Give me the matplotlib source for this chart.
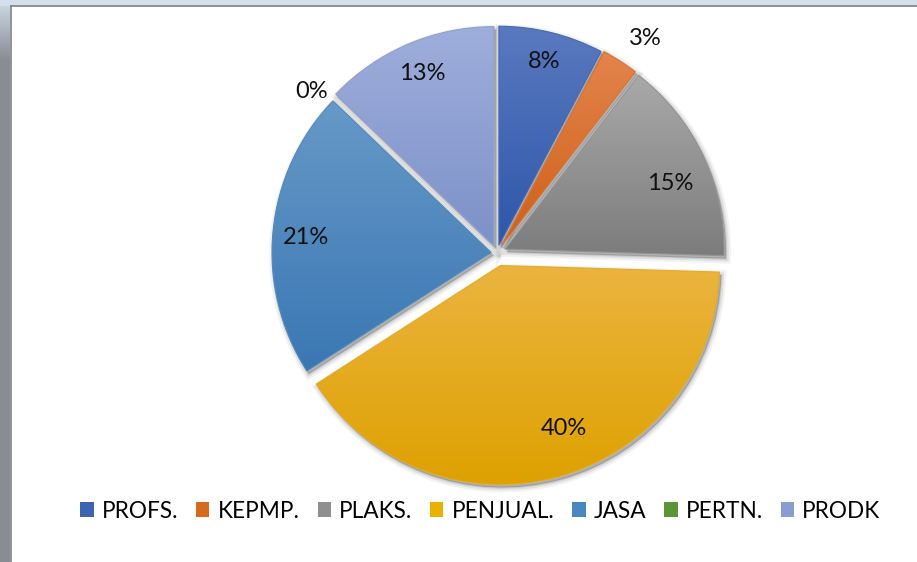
import numpy as np
import matplotlib
matplotlib.use("Agg")
import matplotlib.pyplot as plt
from matplotlib.patches import Rectangle, PathPatch
from matplotlib.colors import to_rgb
from matplotlib.transforms import Affine2D

# data (percent of total)
categories = ["PROFS.", "KEPMP.", "PLAKS.", "PENJUAL.", "JASA", "PERTN.", "PRODK"]
shares = [7.7, 2.7, 15.0, 40.3, 21.2, 0.0, 12.8]

# top / bottom colours of each slice gradient
top_colors = ["#5a79bf", "#e3844c", "#a9a9a9", "#ebb43f", "#6799c8", "#6aa446", "#9eaedc"]
bottom_colors = ["#2d57aa", "#cf5f18", "#7c7c7c", "#dea100", "#3a77b3", "#4f8a2c", "#7d91c8"]
legend_colors = ["#3d63b3", "#d8691f", "#8f8f8f", "#eab000", "#4a86c0", "#5a9637", "#8a9dd3"]

explode = [8, 9, 9, 13, 6, 6, 8]
# label placement: fraction of radius and angle nudge (deg)
pct_dist = [0.866, 1.149, 0.81, 0.80, 0.847, 1.096, 0.85]
pct_turn = [0.1, -2.2, -3.7, 5.7, 0.9, 2.8, -0.4]

W, H = 917, 562
cx, cy, R = 497, H - 253, 219

fig = plt.figure(figsize=(W / 100, H / 100), dpi=100)
fig.patch.set_facecolor("white")
ax = fig.add_axes([0, 0, 1, 1])
ax.set_axis_off()

# window frame around the chart (left and top strips)
strip = np.ones((H, 1, 3))
for r in range(H):
    t = min(r / 60.0, 1.0)
    strip[r, 0] = (1 - t) * np.array(to_rgb("#cfdbe8")) + t * np.array(to_rgb("#878c95"))
ax.imshow(strip, extent=(0, 10, 0, H), origin="upper", aspect="auto", zorder=0)
ax.add_patch(Rectangle((0, H - 6), W, 6, facecolor="#d3dfec", edgecolor="none", zorder=0))
ax.plot([10.5, 10.5], [0, H - 5.5], color="#7f7f7f", lw=1.2, zorder=1)
ax.plot([10.5, W], [H - 5.5, H - 5.5], color="#7f7f7f", lw=1.2, zorder=1)

wedges, texts, autotexts = ax.pie(
    shares, explode=explode, startangle=90, counterclock=False,
    center=(cx, cy), radius=R, autopct=lambda p: f"{p:.0f}%",
    pctdistance=0.85, wedgeprops=dict(linewidth=0),
    textprops=dict(fontsize=17, family="Lato", color="#111111"),
)

for i, w in enumerate(wedges):
    path = w.get_path()
    if shares[i] > 0:
        # soft shadow
        for lw, a in [(7, 0.05), (4, 0.07), (1.5, 0.10)]:
            sh = PathPatch(path.transformed(Affine2D().translate(2, -3)),
                           facecolor=(0, 0, 0, a), edgecolor=(0, 0, 0, a), lw=lw, zorder=1.5)
            ax.add_patch(sh)
        ext = path.get_extents()
        c0 = np.array(to_rgb(top_colors[i]))
        c1 = np.array(to_rgb(bottom_colors[i]))
        t = np.linspace(0, 1, 256)[:, None, None]
        grad = (1 - t) * c0 + t * c1
        im = ax.imshow(grad, extent=(ext.x0, ext.x1, ext.y0, ext.y1), origin="upper",
                       aspect="auto", interpolation="bilinear", zorder=2)
        im.set_clip_path(w)
        edge = PathPatch(path, facecolor="none",
                         edgecolor=tuple((c0 + c1) / 2), lw=0.8, zorder=2.1)
        ax.add_patch(edge)
    w.set_facecolor("none")
    w.set_zorder(2)

    th = np.deg2rad((w.theta1 + w.theta2) / 2 + pct_turn[i])
    x0, y0 = w.center
    autotexts[i].set_position((x0 + pct_dist[i] * R * np.cos(th), y0 + pct_dist[i] * R * np.sin(th)))
    autotexts[i].set_zorder(5)

handles = [Rectangle((0, 0), 1, 1, facecolor=c, edgecolor="none") for c in legend_colors]
ax.legend(handles, categories, loc="center", bbox_to_anchor=(480.5 / W, 1 - 511 / H),
          bbox_transform=fig.transFigure, ncol=7, frameon=False,
          prop=dict(family="Lato", size=16.3), handlelength=0.58, handleheight=0.58,
          handletextpad=0.36, columnspacing=0.8, borderpad=0)

ax.set_xlim(0, W)
ax.set_ylim(0, H)
ax.set_aspect("equal")

fig.savefig("out.png", dpi=100)
